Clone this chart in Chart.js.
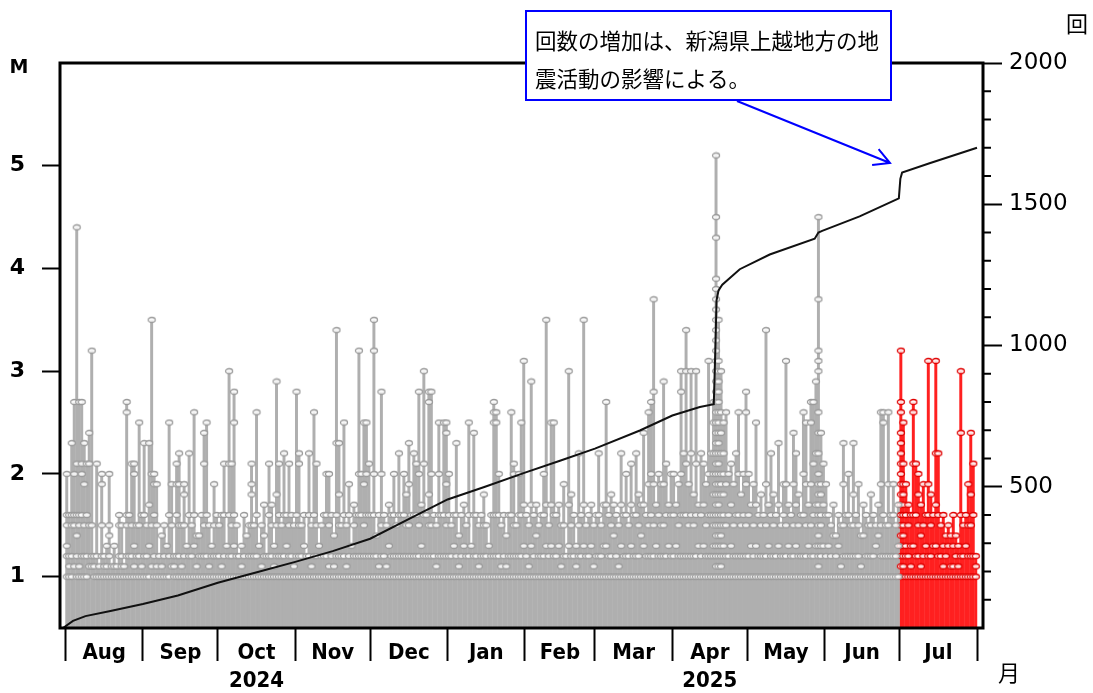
<!DOCTYPE html>
<html>
<head>
<meta charset="utf-8">
<script src="https://cdn.jsdelivr.net/npm/chart.js@4.4.1/dist/chart.umd.min.js"></script>
<style>
    html, body { margin: 0; padding: 0; background: #fff; }
    canvas { display: block; }
</style>
</head>
<body>
<canvas id="quakeChart" width="1093" height="693"></canvas>
<script>
// x axis: day 0 = 2024-08-01
const monthNames = ['Aug', 'Sep', 'Oct', 'Nov', 'Dec', 'Jan', 'Feb', 'Mar', 'Apr', 'May', 'Jun', 'Jul'];
const monthStarts = [0, 31, 61, 92, 122, 153, 184, 212, 243, 273, 304, 334];
const monthDays = [31, 30, 31, 30, 31, 31, 28, 31, 30, 31, 30, 31];
const yearLabels = { Oct: '2024', Apr: '2025' };

const leftTicks = [1, 2, 3, 4, 5];
const rightTicks = [500, 1000, 1500, 2000];

// magnitudes (x10) of the events of each day, one list per day
const aug = [
    [20, 16, 15, 13, 10, 12], [16, 12, 10, 11], [23, 15, 16, 12, 10], [27, 16, 20, 15, 11],
    [44, 21, 16, 14, 12, 10], [27, 16, 15, 11, 10], [27, 21, 20, 16, 12, 10], [23, 19, 15, 12, 10],
    [21, 12, 16, 10], [24, 21, 15, 11], [32, 11, 15, 12], [12, 10, 11], [21, 12, 10], [11, 10],
    [20, 19, 15, 12, 10], [11, 10, 12], [13, 10, 11], [20, 15, 14, 12, 10], [10, 11], [13, 11, 10],
    [11, 10], [16, 15, 12, 10], [15, 12, 10, 11], [11, 10], [27, 26, 16, 15, 12, 10], [16, 12, 10],
    [21, 15, 12, 10], [21, 20, 13, 11, 10], [15, 12, 10], [25, 15, 12, 10], [16, 11, 10]
];
const sep = [
    [23, 16, 12, 10], [15, 12, 10], [23, 17, 13, 10], [35, 20, 15, 11], [20, 19, 16, 12, 10],
    [19, 15, 11, 10], [12, 10], [14, 11, 10], [15, 12, 10], [13, 10], [25, 16, 12, 10], [19, 15, 11],
    [12, 10, 11], [21, 19, 16, 12, 10], [22, 19, 15, 12, 10], [15, 11, 10], [19, 18, 15, 12, 10],
    [13, 10], [22, 16, 12, 10], [15, 12, 10], [26, 16, 13, 10], [14, 11, 10], [14, 12, 10],
    [16, 12, 10], [24, 21, 15, 12, 10], [25, 16, 12, 10], [15, 11, 10], [13, 10, 12],
    [19, 15, 12, 10], [16, 12, 10]
];
const oct = [
    [15, 12, 10], [16, 11, 10], [21, 16, 12, 10], [13, 10], [30, 21, 16, 12, 10], [21, 15, 12, 10],
    [28, 25, 16, 13, 10], [15, 12, 10], [12, 10], [13, 11, 10], [16, 12, 10], [14, 10], [15, 12, 10],
    [21, 19, 18, 15, 12, 10], [15, 12, 10], [26, 16, 12, 10], [13, 10], [15, 11, 10], [17, 14, 12, 10],
    [12, 10], [21, 16, 12, 10], [17, 15, 12, 10], [13, 11, 10], [29, 18, 15, 12, 10], [21, 16, 12, 10],
    [15, 12, 10], [22, 16, 12, 10], [16, 13, 10], [21, 15, 12, 10], [16, 12, 10], [15, 11, 10]
];
const nov = [
    [28, 16, 12, 10], [22, 21, 15, 12, 10], [15, 12, 10], [16, 13, 10], [12, 10], [22, 16, 12, 10],
    [15, 11, 10], [26, 16, 12, 10], [21, 15, 12, 10], [13, 10], [15, 12, 10], [16, 12, 10],
    [20, 16, 12, 10], [20, 15, 11, 10], [16, 12, 10], [14, 11, 10], [34, 23, 16, 12, 10],
    [23, 18, 15, 12, 10], [15, 12, 10], [25, 16, 12, 10], [15, 11, 10], [19, 16, 12, 10], [13, 10],
    [17, 15, 12, 10], [16, 12, 10], [32, 20, 16, 12, 10], [20, 16, 12, 10], [25, 19, 15, 12, 10],
    [25, 20, 16, 12, 10], [21, 16, 12, 10]
];
const dec = [
    [16, 12, 10], [35, 32, 20, 16, 12, 10], [14, 12, 10], [16, 11, 10], [28, 20, 15, 12, 10],
    [16, 12, 10], [15, 11, 10], [17, 13, 10], [16, 12, 10], [20, 16, 12, 10], [15, 12, 10],
    [22, 16, 12, 10], [16, 12, 10], [20, 16, 12, 10], [18, 15, 12, 10], [23, 19, 15, 12, 10],
    [16, 12, 10], [22, 16, 12, 10], [21, 16, 12, 10], [28, 20, 15, 12, 10], [17, 13, 10],
    [30, 21, 16, 12, 10], [16, 12, 10], [28, 27, 18, 15, 12, 10], [28, 20, 15, 12, 10], [16, 12, 10],
    [15, 11, 10], [25, 20, 16, 12, 10], [16, 12, 10], [25, 16, 12, 10], [25, 24, 19, 15, 12, 10]
];
const jan = [
    [20, 16, 12, 10], [15, 12, 10], [16, 13, 10], [23, 16, 12, 10], [14, 11, 10], [16, 12, 10],
    [17, 13, 10], [15, 12, 10], [25, 16, 12, 10], [13, 10], [24, 16, 12, 10], [16, 12, 10],
    [15, 11, 10], [16, 12, 10], [18, 15, 12, 10], [15, 12, 10], [13, 10], [16, 12, 10],
    [27, 26, 25, 16, 12, 10], [26, 25, 16, 12, 10], [20, 16, 12, 10], [15, 11, 10], [16, 12, 10],
    [14, 11, 10], [16, 12, 10], [26, 16, 12, 10], [21, 20, 15, 12, 10], [15, 12, 10],
    [20, 16, 12, 10], [25, 16, 12, 10], [31, 17, 13, 10]
];
const feb = [
    [16, 12, 10], [15, 11, 10], [29, 17, 13, 10], [16, 12, 10], [17, 14, 10], [15, 12, 10],
    [16, 12, 10], [20, 16, 12, 10], [35, 17, 13, 10], [15, 12, 10], [25, 17, 13, 10], [25, 16, 12, 10],
    [16, 12, 10], [17, 13, 10], [15, 11, 10], [19, 15, 12, 10], [12, 10], [30, 17, 13, 10],
    [18, 15, 12, 10], [16, 12, 10], [13, 11, 10], [22, 15, 12, 10], [16, 12, 10], [35, 17, 13, 10],
    [15, 12, 10], [16, 12, 10], [17, 13, 10], [15, 11, 10]
];
const mar = [
    [16, 12, 10], [22, 16, 12, 10], [15, 12, 10], [17, 13, 10], [27, 17, 13, 10], [16, 12, 10],
    [18, 15, 12, 10], [17, 14, 10], [16, 12, 10], [15, 11, 10], [22, 17, 13, 10], [16, 12, 10],
    [20, 16, 12, 10], [15, 12, 10], [21, 17, 13, 10], [16, 12, 10], [22, 16, 12, 10],
    [18, 15, 12, 10], [17, 14, 10], [24, 17, 13, 10], [16, 12, 10], [26, 19, 15, 12, 10],
    [27, 20, 16, 12, 10], [37, 28, 19, 15, 12, 10], [17, 13, 10], [20, 16, 12, 10], [19, 15, 12, 10],
    [29, 19, 15, 12, 10], [21, 16, 12, 10], [17, 13, 10], [20, 16, 12, 10]
];
const apr = [
    [20, 16, 12, 10], [17, 13, 10], [19, 15, 12, 10], [30, 28, 20, 16, 12, 10], [22, 16, 12, 10],
    [34, 30, 21, 16, 12, 10], [19, 15, 12, 10], [30, 22, 16, 12, 10], [18, 15, 12, 10],
    [30, 21, 16, 12, 10], [17, 13, 10], [22, 16, 12, 10], [21, 17, 13, 10], [19, 15, 12, 10],
    [31, 20, 16, 12, 10], [22, 16, 12, 10], [27, 25, 22, 20, 18, 16, 15, 13, 12, 10],
    [51, 45, 43, 39, 38, 37, 36, 35, 34, 33, 32, 31, 30, 29, 28, 27, 26, 25, 24, 23, 22, 21, 20,
     19, 18, 17, 16, 15, 14, 13, 12, 11, 10],
    [35, 31, 30, 29, 28, 27, 26, 25, 24, 23, 22, 21, 20, 19, 18, 17, 16, 15, 14, 13, 12, 11, 10],
    [30, 26, 24, 22, 20, 19, 18, 16, 15, 14, 13, 12, 11, 10], [25, 22, 20, 18, 16, 15, 13, 12, 10],
    [26, 19, 15, 12, 10], [20, 16, 12, 10], [21, 17, 13, 10], [19, 15, 12, 10], [22, 16, 12, 10],
    [26, 20, 16, 12, 10], [18, 15, 12, 10], [20, 16, 12, 10], [28, 26, 19, 15, 12, 10]
];
const may = [
    [20, 16, 12, 10], [17, 13, 10], [19, 15, 12, 10], [25, 17, 13, 10], [16, 12, 10],
    [18, 15, 12, 10], [16, 12, 10], [34, 19, 15, 12, 10], [17, 13, 10], [22, 16, 12, 10],
    [18, 15, 12, 10], [16, 12, 10], [23, 17, 13, 10], [15, 12, 10], [19, 16, 12, 10],
    [31, 19, 15, 12, 10], [17, 13, 10], [16, 12, 10], [24, 19, 15, 12, 10], [22, 17, 13, 10],
    [18, 15, 12, 10], [16, 12, 10], [26, 20, 16, 12, 10], [25, 19, 15, 12, 10], [17, 13, 10],
    [27, 25, 19, 15, 12, 10], [27, 21, 16, 12, 10], [29, 22, 17, 13, 10],
    [45, 37, 32, 31, 30, 26, 24, 22, 20, 19, 18, 17, 16, 15, 14, 13, 12, 11, 10],
    [24, 19, 18, 16, 15, 13, 12, 10], [21, 17, 13, 10]
];
const jun = [
    [19, 16, 12, 10], [16, 13, 10], [15, 12, 10], [17, 14, 10], [14, 12, 10], [16, 13, 10],
    [15, 11, 10], [23, 19, 15, 12, 10], [16, 12, 10], [20, 16, 12, 10], [15, 12, 10],
    [23, 18, 15, 12, 10], [16, 12, 10], [19, 15, 12, 10], [14, 11, 10], [17, 14, 10], [16, 12, 10],
    [15, 12, 10], [18, 15, 12, 10], [16, 12, 10], [15, 13, 10], [17, 14, 10], [26, 19, 15, 12, 10],
    [26, 25, 16, 12, 10], [15, 12, 10], [26, 19, 15, 12, 10], [16, 12, 10], [19, 16, 12, 10],
    [15, 12, 10], [17, 13, 10]
];
// latest month, drawn in red
const jul = [
    [32, 27, 26, 24, 23, 22, 21, 20, 19, 18, 17, 16, 15, 14, 13, 12, 11, 10],
    [25, 21, 19, 18, 17, 16, 15, 14, 13, 12, 11, 10], [19, 16, 13, 12, 10], [17, 15, 12, 10],
    [16, 13, 11, 10], [27, 26, 21, 16, 13, 10], [21, 16, 12, 10], [20, 18, 15, 12, 10],
    [17, 14, 11, 10], [19, 15, 12, 10], [16, 13, 10], [31, 19, 16, 12, 10], [18, 15, 12, 10],
    [16, 13, 10], [31, 22, 17, 13, 10], [22, 16, 12, 10], [15, 12, 10], [16, 13, 11, 10],
    [14, 12, 10], [15, 13, 10], [14, 11, 10], [16, 13, 11, 10], [14, 12, 10], [13, 11, 10],
    [30, 24, 16, 12, 10], [15, 12, 10], [16, 13, 10], [19, 15, 12, 10], [24, 18, 15, 12, 10],
    [21, 16, 12, 10], [12, 11, 10]
];

// cumulative number of events (right axis)
const cumDay = [-1, 3, 8, 18, 31, 45, 61, 77, 92, 107, 122, 138, 153, 168, 184, 198, 212, 230, 243,
    254, 259.6, 260.2, 260.7, 261.5, 263, 270, 282, 300, 301.5, 303, 318, 333.7, 334.3, 335, 346, 365];
const cumCount = [0, 25, 42, 60, 85, 115, 160, 198, 234, 272, 316, 388, 455, 500, 550, 592, 635, 699,
    752, 782, 792, 980, 1160, 1195, 1215, 1270, 1322, 1378, 1400, 1406, 1457, 1521, 1590, 1612, 1645, 1700];

// turn the day lists into stems (daily max) and marks (every event)
function buildEvents(months, firstMonth) {
    const stems = [];
    const marks = [];
    months.forEach((days, m) => {
        const start = monthStarts[firstMonth + m];
        days.forEach((mags, d) => {
            const x = start + d + 0.5;
            stems.push({ x: x, y: Math.max(...mags) / 10 });
            mags.forEach(v => marks.push({ x: x, y: v / 10 }));
        });
    });
    return { stems, marks };
}

// small open ellipse used as the event marker
function makeRing(color) {
    const c = document.createElement('canvas');
    c.width = 10;
    c.height = 8;
    const g = c.getContext('2d');
    g.beginPath();
    g.ellipse(5, 4, 3.5, 2.5, 0, 0, Math.PI * 2);
    g.fillStyle = 'rgba(255,255,255,0.85)';
    g.fill();
    g.lineWidth = 1.3;
    g.strokeStyle = color;
    g.stroke();
    return c;
}

const grayEvents = buildEvents([aug, sep, oct, nov, dec, jan, feb, mar, apr, may, jun], 0);
const redEvents = buildEvents([jul], 11);
const cumPoints = cumDay.map((d, i) => ({ x: d, y: cumCount[i] }));

const boundaryTicks = monthStarts.concat([365]);
const labelTicks = monthStarts.map((s, i) => s + monthDays[i] / 2);

// frame, minor ticks, texts and the note box
const decorations = {
    id: 'decorations',
    afterDatasetsDraw(chart) {
        const ctx = chart.ctx;
        const a = chart.chartArea;
        const yR = chart.scales.yR;
        ctx.save();
        ctx.strokeStyle = '#000';
        ctx.lineWidth = 3;
        ctx.strokeRect(a.left, a.top, a.right - a.left, a.bottom - a.top);
        ctx.lineWidth = 2;
        for (let v = 100; v < 2000; v += 100) {
            if (v % 500 === 0) continue;
            const y = yR.getPixelForValue(v);
            ctx.beginPath();
            ctx.moveTo(a.right, y);
            ctx.lineTo(a.right + 8, y);
            ctx.stroke();
        }
        ctx.restore();
    },
    afterDraw(chart) {
        const ctx = chart.ctx;
        ctx.save();
        ctx.fillStyle = '#000';
        ctx.textAlign = 'center';
        ctx.textBaseline = 'middle';
        ctx.font = 'bold 19px "DejaVu Sans"';
        ctx.fillText('M', 19, 68);
        ctx.font = '22px "Noto Sans CJK JP"';
        ctx.fillText('回', 1077, 24);
        ctx.fillText('月', 1009, 673);

        // note box
        ctx.fillStyle = '#fff';
        ctx.fillRect(526, 11, 365, 89);
        ctx.strokeStyle = '#0000ff';
        ctx.lineWidth = 2;
        ctx.strokeRect(526, 11, 365, 89);
        ctx.fillStyle = '#000';
        ctx.textAlign = 'left';
        ctx.font = '21.5px "Noto Sans CJK JP"';
        ctx.fillText('回数の増加は、新潟県上越地方の地', 535, 41);
        ctx.fillText('震活動の影響による。', 535, 79);

        // arrow
        const x0 = 737, y0 = 101, x1 = 890, y1 = 163;
        const ang = Math.atan2(y1 - y0, x1 - x0);
        ctx.beginPath();
        ctx.moveTo(x0, y0);
        ctx.lineTo(x1, y1);
        ctx.moveTo(x1 - 18 * Math.cos(ang - 0.5), y1 - 18 * Math.sin(ang - 0.5));
        ctx.lineTo(x1, y1);
        ctx.lineTo(x1 - 18 * Math.cos(ang + 0.5), y1 - 18 * Math.sin(ang + 0.5));
        ctx.stroke();
        ctx.restore();
    }
};

// month boundary ticks are black, the label ticks get no mark
function monthTickColor(c) {
    if (!c || !c.tick) return 'rgba(0,0,0,0)';
    return boundaryTicks.includes(c.tick.value) ? '#000' : 'rgba(0,0,0,0)';
}

const ctx = document.getElementById('quakeChart').getContext('2d');
const chart = new Chart(ctx, {
    type: 'bar',
    data: {
        datasets: [
            {
                type: 'line',
                data: cumPoints,
                yAxisID: 'yR',
                borderColor: '#111',
                borderWidth: 2,
                pointRadius: 0,
                tension: 0,
                order: 1
            },
            {
                type: 'scatter',
                data: grayEvents.marks,
                yAxisID: 'y',
                pointStyle: makeRing('#9a9a9a'),
                order: 2
            },
            {
                type: 'scatter',
                data: redEvents.marks,
                yAxisID: 'y',
                pointStyle: makeRing('#e00000'),
                order: 2
            },
            {
                type: 'bar',
                data: grayEvents.stems,
                yAxisID: 'y',
                backgroundColor: '#afafaf',
                barThickness: 2.3,
                grouped: false,
                order: 3
            },
            {
                type: 'bar',
                data: redEvents.stems,
                yAxisID: 'y',
                backgroundColor: '#ff2020',
                barThickness: 2.3,
                grouped: false,
                order: 3
            }
        ]
    },
    options: {
        responsive: false,
        animation: false,
        layout: { padding: { top: 63, left: 0, right: 0, bottom: 0 } },
        plugins: { legend: { display: false }, tooltip: { enabled: false } },
        scales: {
            x: {
                type: 'linear',
                offset: false,
                min: -2.2,
                max: 367.4,
                afterBuildTicks: scale => {
                    scale.ticks = boundaryTicks.concat(labelTicks).sort((a, b) => a - b).map(v => ({ value: v }));
                },
                afterFit: scale => { scale.height = 65; },
                border: { display: false },
                grid: {
                    offset: false,
                    drawOnChartArea: false,
                    tickLength: 33,
                    tickWidth: 2,
                    tickColor: monthTickColor
                },
                ticks: {
                    autoSkip: false,
                    maxRotation: 0,
                    minRotation: 0,
                    padding: -21,
                    color: '#000',
                    font: { family: '"DejaVu Sans Condensed", "Liberation Sans Narrow", sans-serif', size: 22, weight: 'bold', lineHeight: 1.25 },
                    callback: value => {
                        const i = labelTicks.indexOf(value);
                        if (i < 0) return '';
                        const name = monthNames[i];
                        return yearLabels[name] ? [name, yearLabels[name]] : name;
                    }
                }
            },
            y: {
                type: 'linear',
                position: 'left',
                min: 0.5,
                max: 6,
                afterBuildTicks: scale => { scale.ticks = leftTicks.map(v => ({ value: v })); },
                afterFit: scale => { scale.width = 60; },
                border: { display: false },
                grid: { drawOnChartArea: false, tickLength: 18, tickWidth: 2, tickColor: '#000' },
                ticks: { color: '#000', padding: 17, font: { family: '"DejaVu Sans"', size: 22, weight: 'bold' } }
            },
            yR: {
                type: 'linear',
                position: 'right',
                min: 0,
                max: 2000,
                afterBuildTicks: scale => { scale.ticks = rightTicks.map(v => ({ value: v })); },
                afterFit: scale => { scale.width = 110; },
                border: { display: false },
                grid: { drawOnChartArea: false, tickLength: 19, tickWidth: 2, tickColor: '#000' },
                ticks: {
                    color: '#000',
                    padding: 7,
                    font: { family: '"DejaVu Sans"', size: 23 },
                    callback: value => String(value)
                }
            }
        }
    },
    plugins: [decorations]
});
</script>
</body>
</html>
